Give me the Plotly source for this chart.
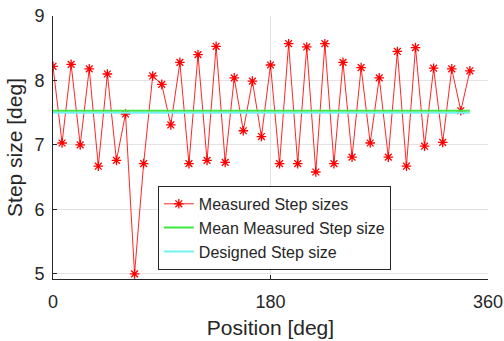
import numpy as np
import plotly.graph_objects as go

# Step sizes measured around one revolution (deg)
step_sizes = [
    8.22, 7.03, 8.25, 7.00, 8.18, 6.67, 8.10, 6.76, 7.48, 5.00,
    6.71, 8.07, 7.94, 7.31, 8.28, 6.71, 8.40, 6.76, 8.53, 6.73,
    8.04, 7.22, 7.99, 7.13, 8.24, 6.71, 8.57, 6.71, 8.52, 6.58,
    8.57, 6.71, 8.28, 6.81, 8.20, 7.03, 8.04, 6.81, 8.45, 6.67,
    8.51, 6.98, 8.19, 7.04, 8.18, 7.53, 8.15,
]
designed_step = 7.5
positions = [i * designed_step for i in range(len(step_sizes))]
mean_step = float(np.mean(step_sizes))

x_ticks = [0, 180, 360]
y_ticks = [5, 6, 7, 8, 9]

FONT = "Liberation Sans, Arial, Helvetica, sans-serif"
TXT = "#262626"
GRID = "#e3e3e3"

fig = go.Figure()
fig.add_trace(go.Scatter(
    x=positions, y=step_sizes, mode="lines+markers",
    name="Measured Step sizes",
    line=dict(color="rgba(255,0,0,0.85)", width=1),
    marker=dict(symbol="asterisk-open", size=8, color="red",
                line=dict(color="red", width=1.3)),
))
fig.add_trace(go.Scatter(
    x=[positions[0], positions[-1]], y=[mean_step, mean_step], mode="lines",
    name="Mean Measured Step size",
    line=dict(color="#3ee83e", width=2),
))
fig.add_trace(go.Scatter(
    x=[positions[0], positions[-1]], y=[designed_step, designed_step], mode="lines",
    name="Designed Step size",
    line=dict(color="#72f2f2", width=2),
))

fig.update_layout(
    width=504, height=341,
    margin=dict(l=53, r=16, t=16, b=62),
    paper_bgcolor="white", plot_bgcolor="white",
    font=dict(family=FONT, color=TXT, size=18),
    showlegend=True,
    legend=dict(
        x=0.241, y=0.354, xanchor="left", yanchor="top",
        bgcolor="white", bordercolor=TXT, borderwidth=1,
        font=dict(family=FONT, size=16, color=TXT),
        tracegroupgap=0, itemwidth=30,
    ),
)
fig.update_xaxes(
    range=[0, 360], tickvals=x_ticks, ticktext=[str(v) for v in x_ticks],
    showgrid=True, gridcolor=GRID, gridwidth=1,
    showline=True, linecolor=TXT, linewidth=1, mirror=False,
    ticks="inside", ticklen=4, tickcolor=TXT, ticklabelstandoff=6,
    zeroline=False, automargin=False,
    title=dict(text="Position [deg]", font=dict(size=21, family=FONT, color=TXT), standoff=9),
)
fig.update_yaxes(
    range=[4.92, 9], tickvals=y_ticks, ticktext=[str(v) for v in y_ticks],
    showgrid=True, gridcolor=GRID, gridwidth=1,
    showline=True, linecolor=TXT, linewidth=1, mirror=False,
    ticks="inside", ticklen=4, tickcolor=TXT, ticklabelstandoff=4,
    zeroline=False, automargin=False,
    title=dict(text="Step size [deg]", font=dict(size=21, family=FONT, color=TXT), standoff=6),
)

fig.write_html("out.html")
